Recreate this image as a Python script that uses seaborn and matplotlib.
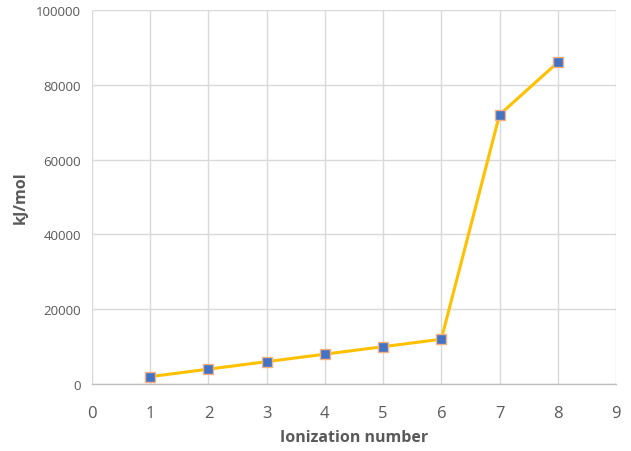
import matplotlib
matplotlib.use("Agg")
import matplotlib.pyplot as plt
import seaborn as sb
import pandas as pd

ionization = [1, 2, 3, 4, 5, 6, 7, 8]
energy = [2000, 4000, 6000, 8000, 10000, 12000, 72000, 86000]
x_ticks = list(range(0, 10))
y_ticks = [0, 20000, 40000, 60000, 80000, 100000]

df = pd.DataFrame({"Ionization number": ionization, "kJ/mol": energy})

sb.set_style("white")
plt.rcParams['font.family'] = ['Open Sans', 'DejaVu Sans']

fig = plt.figure(figsize=(6.31, 4.52), dpi=100)
ax = fig.add_axes([0.1458, 0.148, 0.8304, 0.8277])

sb.lineplot(
    data=df, x="Ionization number", y="kJ/mol",
    color="#FFC000", linewidth=2.2,
    marker="s", markersize=7,
    markerfacecolor="#4472C4", markeredgecolor="#F4B183", markeredgewidth=1,
    ax=ax
)

ax.set_xlim(0, 9)
ax.set_ylim(0, 100000)
ax.set_xticks(x_ticks)
ax.set_yticks(y_ticks)
ax.grid(True, color="#D9D9D9", linewidth=1)
ax.set_axisbelow(True)
for side in ["left", "right", "top"]:
    ax.spines[side].set_visible(False)
ax.spines["bottom"].set_color("#BFBFBF")
ax.spines["bottom"].set_linewidth(1)

# tick labels and axis titles
ax.tick_params(axis="x", labelsize=12, colors="#595959", length=0, pad=15)
ax.tick_params(axis="y", labelsize=9.5, colors="#595959", length=0, pad=8)
ax.set_xlabel("Ionization number", fontsize=11.5, fontweight="bold", color="#595959", labelpad=6)
ax.set_ylabel("kJ/mol", fontsize=11.5, fontweight="bold", color="#595959", labelpad=5)

fig.savefig("out.png", dpi=100)
plt.close()
